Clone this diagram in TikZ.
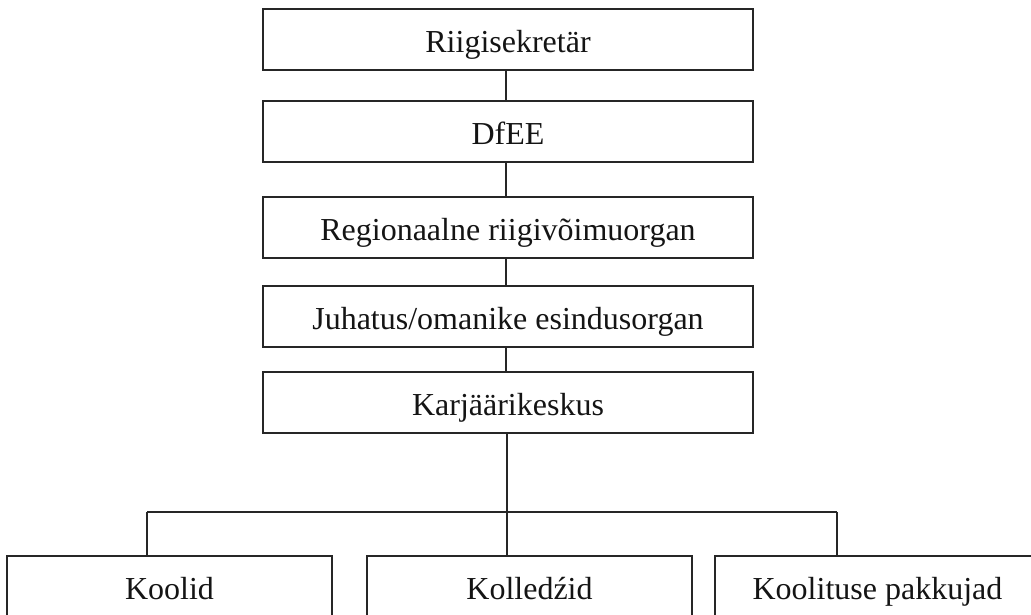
\documentclass[tikz,border=0pt]{standalone}
\usepackage{fontspec}
\setmainfont{Liberation Serif}
\begin{document}
\begin{tikzpicture}[x=1pt,y=-1pt,
  box/.style={draw=black!85, line width=2pt, inner sep=0pt, minimum height=61pt,
    text height=28pt, text depth=2pt, font=\fontsize{32}{36}\selectfont, text=black!92},
  topbox/.style={box, minimum width=490pt},
  botbox/.style={box, minimum width=325pt},
  conn/.style={draw=black!85, line width=2pt}]
\useasboundingbox (0,0) rectangle (1031,614);
\node[topbox] (r) at (508,39) {Riigisekretär};
\node[topbox] (d) at (508,131.5) {DfEE};
\node[topbox] (g) at (508,227) {Regionaalne riigivõimuorgan};
\node[topbox] (j) at (508,316.5) {Juhatus/omanike esindusorgan};
\node[topbox] (k) at (508,402.5) {Karjäärikeskus};
\node[botbox] (s1) at (169.5,586) {Koolid};
\node[botbox] (s2) at (529.5,586) {Kolledźid};
\node[botbox] (s3) at (877.5,586) {Koolituse pakkujad};
\coordinate (hub) at (507,512);
\coordinate (hl) at (147,512);
\coordinate (hr) at (837,512);
\draw[conn] (r.south -| 506,0) -- (d.north -| 506,0);
\draw[conn] (d.south -| 506,0) -- (g.north -| 506,0);
\draw[conn] (g.south -| 506,0) -- (j.north -| 506,0);
\draw[conn] (j.south -| 506,0) -- (k.north -| 506,0);
\draw[conn] (k.south -| hub) -- (hub);
\draw[conn] (hl) -- (hr);
\draw[conn] (hl) -- (hl |- s1.north);
\draw[conn] (hub) -- (hub |- s2.north);
\draw[conn] (hr) -- (hr |- s3.north);
\end{tikzpicture}
\end{document}
